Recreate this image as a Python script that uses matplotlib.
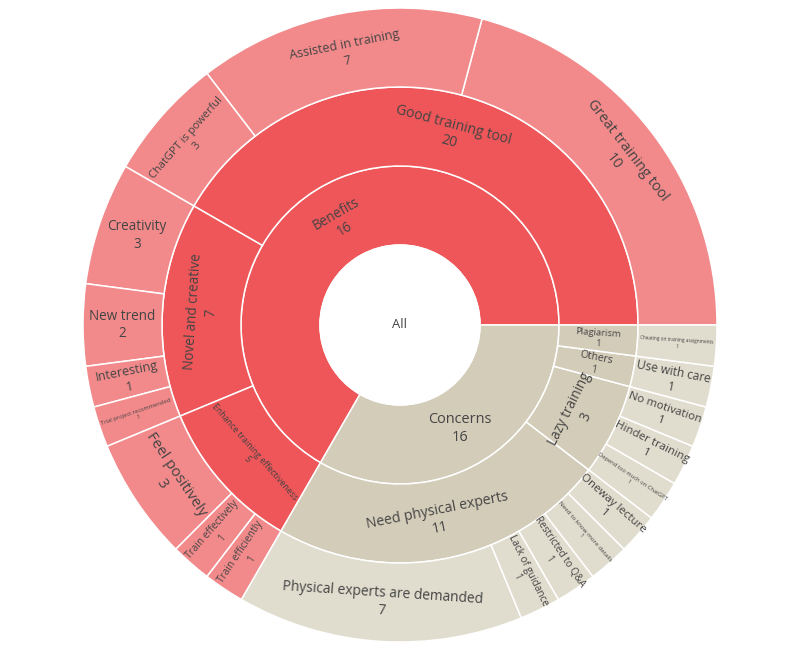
import numpy as np
import matplotlib.pyplot as plt
from matplotlib.patches import Wedge, Circle

plt.rcParams['font.family'] = ['Open Sans', 'DejaVu Sans']

## Hierarchy data
root_label = 'All'

top_labels = ['Benefits', 'Concerns']
top_values = [16, 16]

mid_labels = ['Good training tool', 'Novel and creative', 'Enhance training effectiveness',
              'Need physical experts', 'Lazy training', 'Others', 'Plagiarism']
mid_parents = ['Benefits', 'Benefits', 'Benefits',
               'Concerns', 'Concerns', 'Concerns', 'Concerns']
mid_values = [20, 7, 5, 11, 3, 1, 1]

leaf_labels = ['Great training tool', 'Assisted in training', 'ChatGPT is powerful',
               'Creativity', 'New trend', 'Interesting', 'Trial project recommended',
               'Feel positively', 'Train effectively', 'Train efficiently',
               'Physical experts are demanded', 'Lack of guidance', 'Restricted to Q&A',
               'Need to know more details', 'Oneway lecture',
               'Depend too much on ChatGPT', 'Hinder training', 'No motivation',
               'Use with care', 'Cheating on training assignments']
leaf_parents = ['Good training tool'] * 3 + ['Novel and creative'] * 4 + \
               ['Enhance training effectiveness'] * 3 + ['Need physical experts'] * 5 + \
               ['Lazy training'] * 3 + ['Others', 'Plagiarism']
leaf_values = [10, 7, 3, 3, 2, 1, 1, 3, 1, 1, 7, 1, 1, 1, 1, 1, 1, 1, 1, 1]

## Styling
base_colors = {'Benefits': '#EE5659', 'Concerns': '#D3CCB9'}
leaf_colors = {'Benefits': '#F28A8B', 'Concerns': '#E0DCCE'}
text_color = '#444444'

# text orientation: h = horizontal, r = radial, t = tangential
orient = {'Benefits': 't', 'Concerns': 'h',
          'Good training tool': 't', 'Novel and creative': 't',
          'Enhance training effectiveness': 't', 'Need physical experts': 't',
          'Lazy training': 't', 'Others': 'r', 'Plagiarism': 'r',
          'Great training tool': 't', 'Assisted in training': 't', 'ChatGPT is powerful': 't',
          'Creativity': 'h', 'New trend': 'h', 'Interesting': 'r',
          'Trial project recommended': 'r', 'Feel positively': 't',
          'Train effectively': 'r', 'Train efficiently': 'r',
          'Physical experts are demanded': 't', 'Lack of guidance': 'r',
          'Restricted to Q&A': 'r', 'Need to know more details': 'r', 'Oneway lecture': 'r',
          'Depend too much on ChatGPT': 'r', 'Hinder training': 'r', 'No motivation': 'r',
          'Use with care': 'r', 'Cheating on training assignments': 'r'}

# font size in pixels
fsize = {'Benefits': 13.5, 'Concerns': 14.5,
         'Good training tool': 14, 'Novel and creative': 13.5,
         'Enhance training effectiveness': 8.8, 'Need physical experts': 14,
         'Lazy training': 13.5, 'Others': 10.5, 'Plagiarism': 9.5,
         'Great training tool': 14.5, 'Assisted in training': 12.5, 'ChatGPT is powerful': 11,
         'Creativity': 13.5, 'New trend': 13.5, 'Interesting': 12.5,
         'Trial project recommended': 5.8, 'Feel positively': 15,
         'Train effectively': 10, 'Train efficiently': 10,
         'Physical experts are demanded': 13.8, 'Lack of guidance': 10,
         'Restricted to Q&A': 10, 'Need to know more details': 6.3, 'Oneway lecture': 11.5,
         'Depend too much on ChatGPT': 5.8, 'Hinder training': 11.5, 'No motivation': 11.5,
         'Use with care': 12, 'Cheating on training assignments': 4.8}

W, H = 800, 656
cx, cy = 400, H - 325
radii = [80, 159, 238, 317]

fig = plt.figure(figsize=(W / 100, H / 100), dpi=100)
ax = fig.add_axes([0, 0, 1, 1])
ax.set_xlim(0, W)
ax.set_ylim(0, H)
ax.set_aspect('equal')
ax.axis('off')

unit = 360.0 / sum(leaf_values)


def put_text(label, value, mid, r_in, r_out):
    rm = (r_in + r_out) / 2
    x = cx + rm * np.cos(np.radians(mid))
    y = cy + rm * np.sin(np.radians(mid))
    o = orient[label]
    if o == 't':
        rot = ((mid - 90) + 90) % 180 - 90
    elif o == 'r':
        rot = (mid + 90) % 180 - 90
    else:
        rot = 0
    ax.text(x, y, '%s\n%d' % (label, value), rotation=rot, rotation_mode='anchor',
            ha='center', va='center', ma='center', color=text_color,
            fontsize=fsize[label] * 0.72, linespacing=1.25)


def draw_ring(labels, values, parents_top, r_in, r_out, colors):
    start = 0.0
    for lab, val, top in zip(labels, values, parents_top):
        span = val * unit
        ax.add_patch(Wedge((cx, cy), r_out, start, start + span, width=r_out - r_in,
                           facecolor=colors[top], edgecolor='white', linewidth=1.1))
        start += span


## angular sizes follow the leaves
mid_top = list(mid_parents)
top_span = [sum(v for v, p in zip(mid_values, mid_parents) if p == t) for t in top_labels]
leaf_top = [mid_parents[mid_labels.index(p)] for p in leaf_parents]

draw_ring(top_labels, top_span, top_labels, radii[0], radii[1], base_colors)
draw_ring(mid_labels, mid_values, mid_top, radii[1], radii[2], base_colors)
draw_ring(leaf_labels, leaf_values, leaf_top, radii[2], radii[3], leaf_colors)

ax.add_patch(Circle((cx, cy), radii[0], facecolor='white', edgecolor='white'))
ax.text(cx, cy, root_label, ha='center', va='center', color=text_color, fontsize=13 * 0.72)

## labels
start = 0.0
for lab, span, val in zip(top_labels, top_span, top_values):
    put_text(lab, val, start + span * unit / 2, radii[0], radii[1])
    start += span * unit
start = 0.0
for lab, val in zip(mid_labels, mid_values):
    put_text(lab, val, start + val * unit / 2, radii[1], radii[2])
    start += val * unit
start = 0.0
for lab, val in zip(leaf_labels, leaf_values):
    put_text(lab, val, start + val * unit / 2, radii[2], radii[3])
    start += val * unit

fig.savefig('out.png', dpi=100, facecolor='white')
